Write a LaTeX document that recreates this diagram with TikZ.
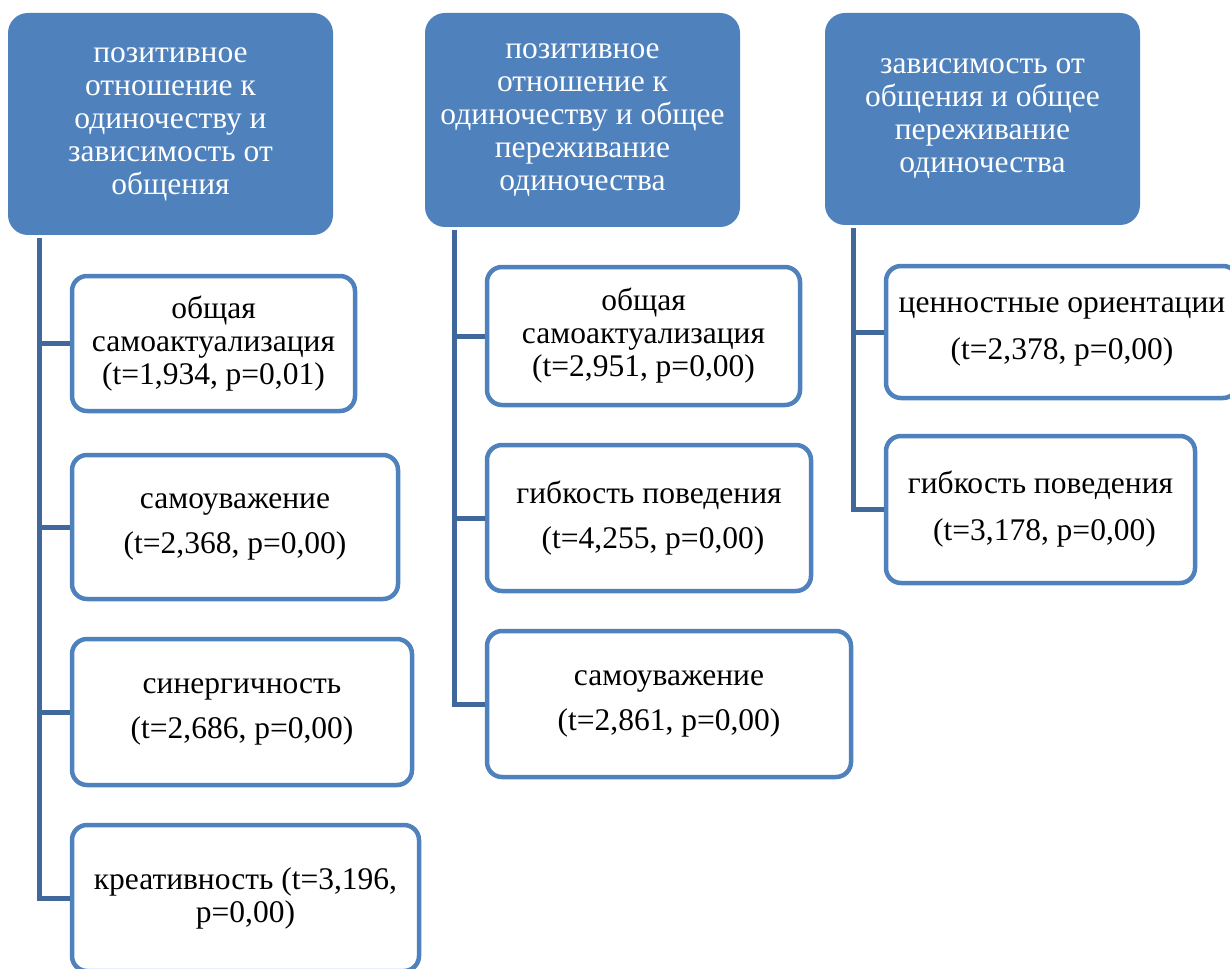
\documentclass[tikz,border=0pt]{standalone}
\usepackage{fontspec}
\setmainfont{Liberation Serif}
\usepackage{tikz}
\usetikzlibrary{calc}
\definecolor{hdrblue}{RGB}{79,129,189}
\definecolor{trunkblue}{RGB}{64,104,155}
\tikzset{
	header/.style={draw=none, fill=hdrblue, rounded corners=20pt, text=white, align=center, inner sep=0pt, font=\fontsize{31.5}{33}\selectfont},
	item/.style={draw=hdrblue, line width=4.5pt, fill=white, rounded corners=15pt, text=black, align=center, inner sep=0pt, font=\fontsize{31.5}{33}\selectfont},
	trunk/.style={draw=trunkblue, line width=5pt}
}

\begin{document}
\begin{tikzpicture}[x=1pt, y=-1pt]
			%%%%% START %%%%%
			
			\clip (0, 0) rectangle (1230, 968);
			\useasboundingbox (0, 0) rectangle (1230, 968);
			
			% headers
			\node[header, minimum width=325pt, minimum height=222pt] (h1) at (170.5, 124) {позитивное\\отношение к\\одиночеству и\\зависимость от\\общения};
			\node[header, minimum width=315pt, minimum height=214pt] (h2) at (582.5, 120) {позитивное\\отношение к\\одиночеству и общее\\переживание\\одиночества};
			\node[header, minimum width=315pt, minimum height=212pt] (h3) at (982.5, 119) {зависимость от\\общения и общее\\переживание\\одиночества};
			
			\coordinate (t1) at ([xshift=32pt, yshift=-3pt]h1.south west);
			\coordinate (t2) at ([xshift=30pt, yshift=-3pt]h2.south west);
			\coordinate (t3) at ([xshift=29pt, yshift=-3pt]h3.south west);
			
			% first column
			\node[item, minimum width=283pt, minimum height=135pt] (c11) at (213.5, 343.5) {общая\\самоактуализация\\(t=1,934, p=0,01)};
			\node[item, minimum width=326pt, minimum height=144pt] (c12) at (235, 527) {самоуважение\\[12pt](t=2,368, p=0,00)};
			\node[item, minimum width=340pt, minimum height=146pt] (c13) at (242, 712) {синергичность\\[12pt](t=2,686, p=0,00)};
			\node[item, minimum width=347pt, minimum height=146pt] (c14) at (245.5, 898) {креативность (t=3,196,\\p=0,00)};
			
			% second column
			\node[item, minimum width=313pt, minimum height=138pt] (c21) at (643.5, 336) {общая\\самоактуализация\\(t=2,951, p=0,00)};
			\node[item, minimum width=324pt, minimum height=146pt] (c22) at (649, 518) {гибкость поведения\\[12pt]\hspace*{8pt}(t=4,255, p=0,00)};
			\node[item, minimum width=364pt, minimum height=146pt] (c23) at (669, 704) {самоуважение\\[12pt](t=2,861, p=0,00)};
			
			% third column
			\node[item, minimum width=352pt, minimum height=132pt] (c31) at (1062, 332) {ценностные ориентации\\[14pt](t=2,378, p=0,00)};
			\node[item, minimum width=309pt, minimum height=147pt] (c32) at (1040.5, 509.5) {гибкость поведения\\[14pt]\hspace*{8pt}(t=3,178, p=0,00)};
			
			% connectors
			\draw[trunk] (t1) |- (c14.west);
			\draw[trunk] (c11.west) -- (c11.west -| t1);
			\draw[trunk] (c12.west) -- (c12.west -| t1);
			\draw[trunk] (c13.west) -- (c13.west -| t1);
			
			\draw[trunk] (t2) |- (c23.west);
			\draw[trunk] (c21.west) -- (c21.west -| t2);
			\draw[trunk] (c22.west) -- (c22.west -| t2);
			
			\draw[trunk] (t3) |- (c32.west);
			\draw[trunk] (c31.west) -- (c31.west -| t3);
			
			%%%%% END %%%%%
		\end{tikzpicture}
\end{document}
